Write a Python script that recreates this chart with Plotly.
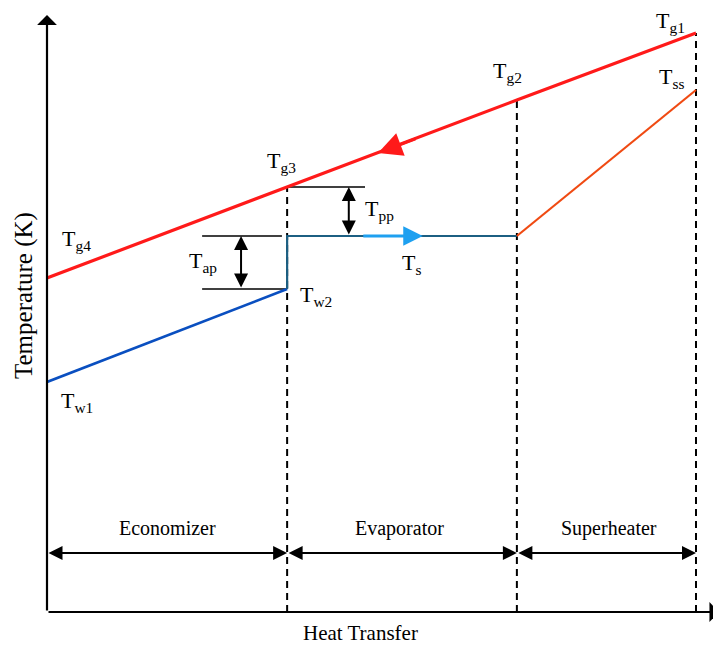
import plotly.graph_objects as go

# ---- data (schematic units) ----
section_q = [0, 37, 72.4, 100]            # heat-transfer positions of section boundaries
gas_T = [334, 425, 512, 579]              # Tg4, Tg3, Tg2, Tg1
econ_q = [0, 37]
econ_T = [230, 323]                       # Tw1, Tw2
evap_q = [37, 37, 72.4]
evap_T = [323, 376, 376]                  # Tw2 -> Ts
sup_q = [72.4, 100]
sup_T = [376, 522]                        # Ts -> Tss
sections = ["Economizer", "Evaporator", "Superheater"]

FONT = "Liberation Serif, Times New Roman, serif"
PX = 6.49  # px per heat-transfer unit

fig = go.Figure()

# dashed section boundaries
for q, t in zip(section_q[1:], gas_T[1:]):
    fig.add_trace(go.Scatter(x=[q, q], y=[0, t], mode="lines",
                             line=dict(color="black", width=2, dash="7px,5px"),
                             hoverinfo="skip", showlegend=False))

# pinch / approach reference lines
fig.add_trace(go.Scatter(x=[37, 49], y=[gas_T[1], gas_T[1]], mode="lines",
                         line=dict(color="black", width=1.5), showlegend=False))
fig.add_trace(go.Scatter(x=[23.9, 36.2], y=[evap_T[1], evap_T[1]], mode="lines",
                         line=dict(color="black", width=1.5), showlegend=False))
fig.add_trace(go.Scatter(x=[23.9, 37], y=[econ_T[1], econ_T[1]], mode="lines",
                         line=dict(color="black", width=1.5), showlegend=False))

# gas line
fig.add_trace(go.Scatter(x=section_q, y=gas_T, mode="lines",
                         line=dict(color="#ff1a1a", width=3.2), showlegend=False))
# economizer water
fig.add_trace(go.Scatter(x=econ_q, y=econ_T, mode="lines",
                         line=dict(color="#0a4fc0", width=2.6), showlegend=False))
# evaporator
fig.add_trace(go.Scatter(x=evap_q, y=evap_T, mode="lines",
                         line=dict(color="#1c5f82", width=2.2), showlegend=False))
# superheater
fig.add_trace(go.Scatter(x=sup_q, y=sup_T, mode="lines",
                         line=dict(color="#f04a12", width=2.2), showlegend=False))

ann = []

def arrow(x, y, ax, ay, color="black", width=2, head=2, size=1.3, both=False):
    ann.append(dict(x=x, y=y, ax=ax, ay=ay, xref="x", yref="y", axref="x", ayref="y",
                    text="", showarrow=True, arrowhead=head, startarrowhead=head,
                    arrowsize=size, startarrowsize=size, arrowwidth=width,
                    arrowcolor=color, standoff=0, startstandoff=0,
                    arrowside="end+start" if both else "end"))

# axes with arrowheads
arrow(0, 597, 0, 0, width=2.2, head=1, size=1.5)
arrow(103.6, 0, 0, 0, width=2.2, head=1, size=1.5)

# flow arrows
slope = (gas_T[-1] - gas_T[0]) / 100
arrow(51, gas_T[0] + slope * 51, 57, gas_T[0] + slope * 57, color="#ff1a1a", width=3, head=2, size=1.6)
arrow(57.9, 376, 48.5, 376, color="#1ea0f0", width=3, head=2, size=1.3)

# Tpp and Tap double arrows
arrow(46.5, gas_T[1], 46.5, evap_T[1], width=2, head=2, size=1.4, both=True)
arrow(29.9, evap_T[1], 29.9, econ_T[1], width=2, head=2, size=1.4, both=True)

# section double arrows
for a, b in zip(section_q[:-1], section_q[1:]):
    arrow(b, 59, a, 59, width=2, head=2, size=1.4, both=True)

centers = [18.6, 54.3, 86.6]
for name, c in zip(sections, centers):
    ann.append(dict(x=c, y=84, xref="x", yref="y", text=name, showarrow=False,
                    font=dict(family=FONT, size=20, color="black")))

labels = [
    ("T<sub>g4</sub>", 4.6, 372),
    ("T<sub>g3</sub>", 36.1, 450),
    ("T<sub>g2</sub>", 70.9, 540),
    ("T<sub>g1</sub>", 96.1, 590),
    ("T<sub>ss</sub>", 96.3, 534),
    ("T<sub>pp</sub>", 51.3, 402),
    ("T<sub>ap</sub>", 24.1, 350),
    ("T<sub>s</sub>", 56.2, 348),
    ("T<sub>w2</sub>", 41.5, 316),
    ("T<sub>w1</sub>", 4.6, 210),
]
for txt, x, y in labels:
    ann.append(dict(x=x, y=y, xref="x", yref="y", text=txt, showarrow=False,
                    font=dict(family=FONT, size=22, color="black")))

# axis titles (paper coordinates, outside the plot area)
ann.append(dict(x=313 / 674, y=-21 / 602, xref="paper", yref="paper", text="Heat Transfer",
                xanchor="center", yanchor="middle",
                showarrow=False, font=dict(family=FONT, size=21, color="black")))
ann.append(dict(x=-23 / 674, y=316 / 602, xref="paper", yref="paper", text="Temperature (K)",
                xanchor="center", yanchor="middle",
                textangle=-90, showarrow=False, font=dict(family=FONT, size=25, color="black")))

# page body has an 8px margin, so the figure is 8px smaller and margins shifted
fig.update_layout(
    width=713, height=641,
    margin=dict(l=39, r=0, t=2, b=37),
    paper_bgcolor="white", plot_bgcolor="white",
    xaxis=dict(range=[0, 674 / PX], visible=False, fixedrange=True),
    yaxis=dict(range=[0, 602], visible=False, fixedrange=True),
    annotations=ann,
    showlegend=False,
)

fig.write_html("out.html")
